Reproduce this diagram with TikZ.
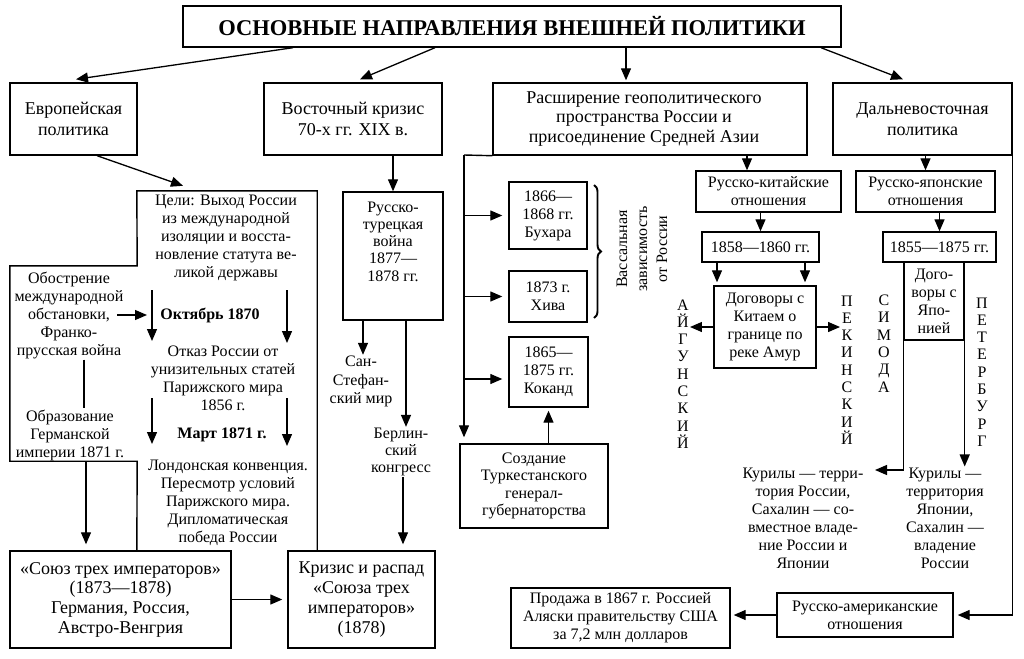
\documentclass[tikz,border=0pt]{standalone}
\usepackage{fontspec}
\setmainfont{Liberation Serif}
\usetikzlibrary{arrows.meta,decorations.pathreplacing,calc}
\begin{document}
\begin{tikzpicture}[x=1pt,y=-1pt,
  box/.style={draw,line width=1.4pt,inner sep=0pt,align=center},
  sm/.style={font=\fontsize{16}{18}\selectfont},
  smb/.style={font=\fontsize{16}{18}\selectfont\bfseries},
  lg/.style={font=\fontsize{18}{21}\selectfont},
  bg/.style={font=\fontsize{18}{19.7}\selectfont},
  txt/.style={align=center,inner sep=1pt},
  vcol/.style={align=center,inner sep=1pt,font=\fontsize{16}{17.3}\selectfont},
  arr/.style={line width=1.3pt,-{Triangle[length=12pt,width=10pt]}},
  ln/.style={line width=1.4pt}]
\fill[white] (0,0) rectangle (1024,658);
\useasboundingbox (0,0) rectangle (1024,658);

% title
\node[box,minimum width=658pt,minimum height=41pt,font=\fontsize{22.5}{26}\selectfont\bfseries] (title) at (512,26.5) {ОСНОВНЫЕ НАПРАВЛЕНИЯ ВНЕШНЕЙ ПОЛИТИКИ};

% level 2
\node[box,lg,minimum width=127pt,minimum height=72pt] (eur) at (73.5,119) {Европейская\\политика};
\node[box,lg,minimum width=178pt,minimum height=72pt] (vost) at (353,119) {Восточный кризис\\70-х гг. XIX в.};
\node[box,minimum width=314pt,minimum height=72pt] (rassh) at (650,119) {};
\node[txt,font=\fontsize{18}{19.5}\selectfont] (rasshtext) at (644,119) {Расширение геополитического\\пространства России и\\присоединение Средней Азии};
\node[box,lg,minimum width=179pt,minimum height=72pt] (dalne) at (922.5,119) {Дальневосточная\\политика};

\draw[arr] ([xshift=-219pt]title.south) -- ([xshift=2.5pt,yshift=3pt]eur.north);
\draw[arr] ([xshift=-77pt]title.south) -- ([xshift=7pt,yshift=3pt]vost.north);
\draw[arr] ([xshift=114pt]title.south) -- ([xshift=-24pt,yshift=2pt]rassh.north);
\draw[arr] ([xshift=309pt]title.south) -- ([xshift=-19.5pt,yshift=3pt]dalne.north);

% European block
\node[minimum width=180pt,minimum height=359pt,inner sep=0pt] (celibox) at (227,370.5) {};
\node[minimum width=127pt,minimum height=195pt,inner sep=0pt] (leftbox) at (73.5,363.5) {};
\draw[ln,line join=miter] (celibox.south west) -- (leftbox.south east) -- (leftbox.south west) -- (leftbox.north west) -- (leftbox.north east) -- (celibox.north west) -- (celibox.north east) -- (celibox.south east);
\draw[arr] ([xshift=23.5pt]eur.south) -- ([xshift=-44pt,yshift=5pt]celibox.north);

\node[txt,sm] (celi) at (226,238) {Цели: Выход России\\из международной\\изоляции и восста-\\новление статута ве-\\ликой державы};
\node[txt,sm] (obostr) at (69,315) {Обострение\\международной\\обстановки,\\Франко-\\прусская война};
\node[txt,sm] (obraz) at (70,435) {Образование\\Германской\\империи 1871 г.};
\node[txt,smb] (okt) at (210,315) {Октябрь 1870};
\node[txt,sm] (otkaz) at (223,378) {Отказ России от\\унизительных статей\\Парижского мира\\1856 г.};
\node[txt,smb] (mart) at (222,435) {Март 1871 г.};
\node[txt,sm] (london) at (228,503) {Лондонская конвенция.\\Пересмотр условий\\Парижского мира.\\Дипломатическая\\победа России};

\coordinate (a1s) at (152,290); \coordinate (a1e) at (152,341);
\coordinate (a2s) at (287,290); \coordinate (a2e) at (287,343);
\coordinate (a3s) at (152,398); \coordinate (a3e) at (152,444);
\coordinate (a4s) at (287,398); \coordinate (a4e) at (287,446);
\draw[arr] (a1s) -- (a1e);
\draw[arr] (a2s) -- (a2e);
\draw[arr] (a3s) -- (a3e);
\draw[arr] (a4s) -- (a4e);
\draw[arr] ([xshift=48pt]obostr.center) -- ([xshift=-63pt]okt.center);
\coordinate (xl) at (84,0);
\coordinate (xl2) at (86,0);
\draw[ln] (obostr.south -| xl) -- (obraz.north -| xl);

\node[box,bg,minimum width=221pt,minimum height=97pt] (soyuz) at (120.5,599.5) {«Союз трех императоров»\\(1873—1878)\\Германия, Россия,\\Австро-Венгрия};
\node[box,bg,minimum width=147pt,minimum height=97pt] (krizis) at (361.5,599.5) {Кризис и распад\\«Союза трех\\императоров»\\(1878)};
\draw[arr,shorten >=6pt] (leftbox.south -| xl2) -- (soyuz.north -| xl2);
\draw[arr,shorten >=5pt] (soyuz.east) -- (krizis.west);

% Eastern crisis
\node[box,minimum width=100pt,minimum height=128pt] (rt) at (393,256) {};
\node[txt,font=\fontsize{16}{17.3}\selectfont] (rttext) at (393,241.5) {Русско-\\турецкая\\война\\1877—\\1878 гг.};
\draw[arr] (vost.south -| rt.north) -- (rt.north);
\node[txt,font=\fontsize{16}{18.5}\selectfont] (sanst) at (361,381.5) {Сан-\\Стефан-\\ский мир};
\node[txt,font=\fontsize{16}{17}\selectfont] (berlin) at (401,452) {Берлин-\\ский\\конгресс};
\coordinate (xs) at (363,0);
\coordinate (xb) at (406,0);
\coordinate (xb2) at (403,0);
\draw[arr] (rt.south -| xs) -- (sanst.north -| xs);
\draw[arr] (rt.south -| xb) -- (berlin.north -| xb);
\draw[arr,shorten >=6pt] (berlin.south -| xb2) -- (krizis.north -| xb2);

% Central Asia
\node[box,sm,minimum width=78pt,minimum height=67pt] (buhara) at (548,215.5) {1866—\\1868 гг.\\Бухара};
\node[box,sm,minimum width=78pt,minimum height=51pt] (khiva) at (548,296.5) {1873 г.\\Хива};
\node[box,sm,minimum width=79pt,minimum height=70pt] (kokand) at (548.5,372) {1865—\\1875 гг.\\Коканд};
\node[box,font=\fontsize{16}{17.3}\selectfont,minimum width=148pt,minimum height=84pt] (sozd) at (534,486) {Создание\\Туркестанского\\генерал-\\губернаторства};
\coordinate (vl) at (464,155);
\coordinate (kk) at ([yshift=-7pt]kokand.west);
\draw[ln] (rassh.south west) -- (vl);
\draw[arr,shorten >=6pt] (vl) -- (vl |- sozd.north);
\draw[arr,shorten >=6pt] (vl |- buhara.west) -- (buhara.west);
\draw[arr,shorten >=6pt] (vl |- khiva.west) -- (khiva.west);
\draw[arr,shorten >=6pt] (vl |- kk) -- (kk);
\draw[arr,shorten >=3pt] (sozd.north -| kokand.south) -- (kokand.south);
\draw[decorate,decoration={brace,amplitude=7pt},line width=1.9pt] (594,185) -- (594,318);
\node[txt,font=\fontsize{16}{20}\selectfont,rotate=90] (vass) at (642,249) {Вассальная\\зависимость\\от России};

% Far East
\node[box,sm,minimum width=145pt,minimum height=41pt] (rk) at (768.5,191.5) {Русско-китайские\\отношения};
\node[box,sm,minimum width=139pt,minimum height=41pt] (rj) at (925.5,191.5) {Русско-японские\\отношения};
\coordinate (xrk) at (747,0);
\draw[arr] (rassh.south -| xrk) -- (rk.north -| xrk);
\draw[arr] (dalne.south -| rj.north) -- (rj.north);
\node[box,sm,minimum width=117pt,minimum height=30pt] (d1858) at (760.5,247) {1858—1860 гг.};
\node[box,sm,minimum width=113pt,minimum height=30pt] (d1855) at (939.5,247) {1855—1875 гг.};
\draw[arr] (rk.south -| d1858.north) -- (d1858.north);
\draw[arr] (rj.south -| d1855.north) -- (d1855.north);
\node[box,sm,minimum width=102pt,minimum height=82pt] (dkit) at (765,327) {Договоры с\\Китаем о\\границе по\\реке Амур};
\coordinate (xk1) at (717,0);
\coordinate (xk2) at (805,0);
\draw[arr,shorten >=3pt] (d1858.south -| xk1) -- (dkit.north -| xk1);
\draw[arr,shorten >=3pt] (d1858.south -| xk2) -- (dkit.north -| xk2);
\node[vcol] (aigun) at (683,374) {А\\Й\\Г\\У\\Н\\С\\К\\И\\Й};
\node[vcol] (pekin) at (847,370) {П\\Е\\К\\И\\Н\\С\\К\\И\\Й};
\node[vcol] (simoda) at (884,343.5) {С\\И\\М\\О\\Д\\А};
\node[vcol] (peterb) at (982,372) {П\\Е\\Т\\Е\\Р\\Б\\У\\Р\\Г};
\draw[arr] (dkit.west) -- (dkit.west -| aigun.east);
\draw[arr] (dkit.east) -- (dkit.east -| pekin.west);
\node[box,sm,minimum width=60pt,minimum height=78pt] (djap) at (934,301) {Дого-\\воры с\\Япо-\\нией};
\node[txt,sm] (kurL) at (803,518) {Курилы — терри-\\тория России,\\Сахалин — со-\\вместное владе-\\ние России и\\Японии};
\node[txt,sm] (kurR) at (945,518) {Курилы —\\территория\\Японии,\\Сахалин —\\владение\\России};
\coordinate (kl) at (875,470);
\draw[arr] (djap.south west) |- (kl);
\draw[arr] (djap.south east) -- (djap.south east |- kurR.north);

\node[box,sm,minimum width=176pt,minimum height=44pt] (ra) at (865,615) {Русско-американские\\отношения};
\node[box,sm,minimum width=219pt,minimum height=60pt] (prod) at (620.5,618) {Продажа в 1867 г. Россией\\Аляски правительству США\\за 7,2 млн долларов};
\draw[arr,shorten >=4pt] (dalne.south east) |- (ra.east);
\draw[arr,shorten >=3pt] (ra.west) -- (ra.west -| prod.east);
\end{tikzpicture}
\end{document}
